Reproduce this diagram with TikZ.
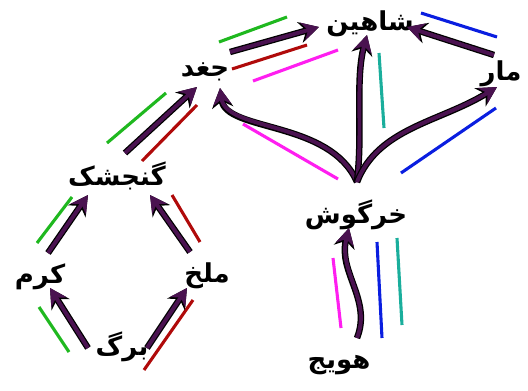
\documentclass[tikz,border=0pt]{standalone}
\usepackage{fontspec}
\newfontfamily\arabicfont[Script=Arabic]{DejaVu Sans}
\TeXXeTstate=1
\usetikzlibrary{arrows.meta}
\definecolor{feedpurple}{HTML}{4A1250}
\definecolor{chaingreen}{HTML}{1FB81F}
\definecolor{chainred}{HTML}{B00A0A}
\definecolor{chainpink}{HTML}{FF1EF0}
\definecolor{chainteal}{HTML}{1AAE9C}
\definecolor{chainblue}{HTML}{0A1EE0}
\tikzset{
  animal/.style={inner sep=1pt, font=\arabicfont\bfseries\fontsize{18.5}{21}\selectfont},
  feed/.style={-{Stealth[length=12pt,width=13pt]}, line width=2.8pt, draw=feedpurple,
    preaction={draw=black, line width=4.6pt, -{Stealth[length=14pt,width=15pt]}}},
  chain/.style={line width=2.2pt}
}
\begin{document}
\begin{tikzpicture}[x=0.025cm,y=-0.025cm]
  \useasboundingbox (0,0) rectangle (528,390);
  \node[animal] (shahin) at (370,24) {\beginR شاهین\endR};
  \node[animal] (mar) at (501,74) {\beginR مار\endR};
  \node[animal] (joghd) at (205,72) {\beginR جغد\endR};
  \node[animal] (gonjeshk) at (117,176) {\beginR گنجشک\endR};
  \node[animal] (khargoosh) at (356,215) {\beginR خرگوش\endR};
  \node[animal] (kerm) at (40,277) {\beginR کرم\endR};
  \node[animal] (malakh) at (207,276) {\beginR ملخ\endR};
  \node[animal] (barg) at (122,347) {\beginR برگ\endR};
  \node[animal] (havij) at (339,365) {\beginR هویج\endR};
  \draw[chain, chaingreen] (39,307) -- (69,352);
  \draw[chain, chaingreen] (37,243) -- (72,197);
  \draw[chain, chaingreen] (107,143) -- (166,93);
  \draw[chain, chaingreen] (219,42) -- (287,17);
  \draw[chain, chainred] (144,370) -- (193,300);
  \draw[chain, chainred] (200,242) -- (172,195);
  \draw[chain, chainred] (142,161) -- (197,105);
  \draw[chain, chainred] (232,69) -- (307,45);
  \draw[chain, chainpink] (253,81) -- (338,50);
  \draw[chain, chainpink] (243,124) -- (338,179);
  \draw[chain, chainpink] (333,258) -- (341,328);
  \draw[chain, chainteal] (379,53) -- (384,128);
  \draw[chain, chainteal] (397,238) -- (402,325);
  \draw[chain, chainblue] (421,13) -- (497,37);
  \draw[chain, chainblue] (401,173) -- (496,108);
  \draw[chain, chainblue] (377,242) -- (382,338);
  \draw[feed] ([shift={(-34,1)}]barg.center) -- ([shift={(10,11)}]kerm.center);
  \draw[feed] ([shift={(25,1)}]barg.center) -- ([shift={(-20,12)}]malakh.center);
  \draw[feed] ([shift={(8,-24)}]kerm.center) -- ([shift={(-29,19)}]gonjeshk.center);
  \draw[feed] ([shift={(-17,-24)}]malakh.center) -- ([shift={(33,19)}]gonjeshk.center);
  \draw[feed] ([shift={(8,-23)}]gonjeshk.center) -- ([shift={(-8,15)}]joghd.center);
  \draw[feed] ([shift={(25,-20)}]joghd.center) -- ([shift={(-51,3)}]shahin.center);
  \draw[feed] ([shift={(-7,-19)}]mar.center) -- ([shift={(37,3)}]shahin.center);
  \draw[feed] ([shift={(1,-33)}]khargoosh.center) .. controls (330,120) and (226,132) .. ([shift={(15,16)}]joghd.center);
  \draw[feed] ([shift={(1,-33)}]khargoosh.center) .. controls (363,130) and (355,80) .. ([shift={(-3,11)}]shahin.center);
  \draw[feed] ([shift={(1,-33)}]khargoosh.center) .. controls (378,128) and (440,122) .. ([shift={(-4,13)}]mar.center);
  \draw[feed] ([shift={(18,-27)}]havij.center) .. controls (372,300) and (338,272) .. ([shift={(-7,13)}]khargoosh.center);
\end{tikzpicture}
\end{document}
